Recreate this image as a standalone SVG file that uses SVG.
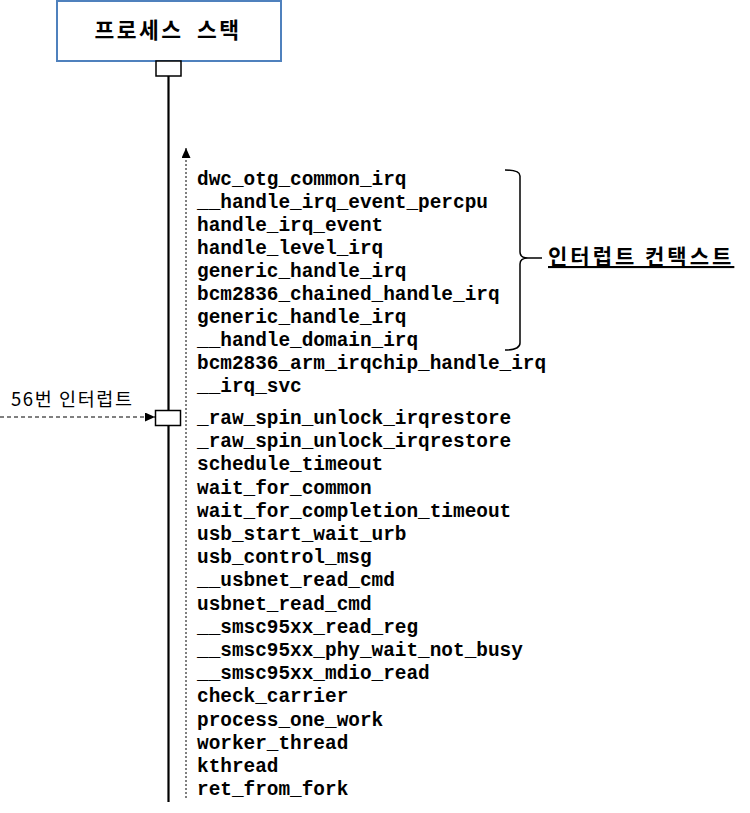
<svg xmlns="http://www.w3.org/2000/svg" width="750" height="813" viewBox="0 0 750 813">
<style>
.fn{font-family:"Liberation Mono","Courier New",monospace;font-size:19.4px;font-weight:bold;fill:#000}
.kr{font-family:"Noto Sans CJK KR","Noto Sans",sans-serif;fill:#000}
.box{fill:#fff;stroke:#000;stroke-width:1.5}
</style>
<defs>
<marker id="ah" markerWidth="10" markerHeight="9" refX="10" refY="4.5" orient="auto" markerUnits="userSpaceOnUse">
<path d="M0,0 L10,4.5 L0,9 Z" fill="#000"/>
</marker>
</defs>
<rect width="750" height="813" fill="#fff"/>
<g id="connectors">
<line x1="168.5" y1="76" x2="168.5" y2="802" stroke="#000" stroke-width="2.2"/>
<line x1="186" y1="798" x2="186" y2="148" stroke="#000" stroke-width="1" stroke-dasharray="2,2" marker-end="url(#ah)"/>
<line x1="0" y1="417" x2="155" y2="417" stroke="#000" stroke-width="1" stroke-dasharray="4,3" marker-end="url(#ah)"/>
<path d="M505,170 Q520,170 520,176 L520,252 Q520,258 528,258 L542,258 M528,258 Q520,258 520,264 L520,343 Q520,350 505,350" fill="none" stroke="#000" stroke-width="1.5"/>
</g>
<g id="process-stack">
<rect x="57" y="1" width="224" height="60" fill="#fff" stroke="#4F81BD" stroke-width="2"/>
<text class="kr" x="168" y="38" font-size="21.5" font-weight="bold" text-anchor="middle" letter-spacing="2.5" word-spacing="6">프로세스 스택</text>
</g>
<g id="top-port"><rect class="box" x="156" y="61" width="25" height="15"/></g>
<g id="irq-port"><rect class="box" x="155.5" y="410.5" width="25" height="15"/></g>
<g id="irq-label"><text class="kr" x="11" y="406" font-size="18.5" letter-spacing="1.6">56번 인터럽트</text></g>
<g id="irq-context-label">
<text class="kr" x="548" y="264" font-size="21" font-weight="bold" letter-spacing="3" text-decoration="underline">인터럽트 컨택스트</text>
</g>
<g id="callstack">
<text class="fn" x="197" y="185">dwc_otg_common_irq</text>
<text class="fn" x="197" y="208">__handle_irq_event_percpu</text>
<text class="fn" x="197" y="231">handle_irq_event</text>
<text class="fn" x="197" y="254">handle_level_irq</text>
<text class="fn" x="197" y="277">generic_handle_irq</text>
<text class="fn" x="197" y="300">bcm2836_chained_handle_irq</text>
<text class="fn" x="197" y="323">generic_handle_irq</text>
<text class="fn" x="197" y="346">__handle_domain_irq</text>
<text class="fn" x="197" y="369">bcm2836_arm_irqchip_handle_irq</text>
<text class="fn" x="197" y="392">__irq_svc</text>
<text class="fn" x="197" y="424">_raw_spin_unlock_irqrestore</text>
<text class="fn" x="197" y="447.2">_raw_spin_unlock_irqrestore</text>
<text class="fn" x="197" y="470.4">schedule_timeout</text>
<text class="fn" x="197" y="493.6">wait_for_common</text>
<text class="fn" x="197" y="516.8">wait_for_completion_timeout</text>
<text class="fn" x="197" y="540">usb_start_wait_urb</text>
<text class="fn" x="197" y="563.2">usb_control_msg</text>
<text class="fn" x="197" y="586.4">__usbnet_read_cmd</text>
<text class="fn" x="197" y="609.6">usbnet_read_cmd</text>
<text class="fn" x="197" y="632.8">__smsc95xx_read_reg</text>
<text class="fn" x="197" y="656">__smsc95xx_phy_wait_not_busy</text>
<text class="fn" x="197" y="679.2">__smsc95xx_mdio_read</text>
<text class="fn" x="197" y="702.4">check_carrier</text>
<text class="fn" x="197" y="725.6">process_one_work</text>
<text class="fn" x="197" y="748.8">worker_thread</text>
<text class="fn" x="197" y="772">kthread</text>
<text class="fn" x="197" y="795.2">ret_from_fork</text>
</g>
</svg>
